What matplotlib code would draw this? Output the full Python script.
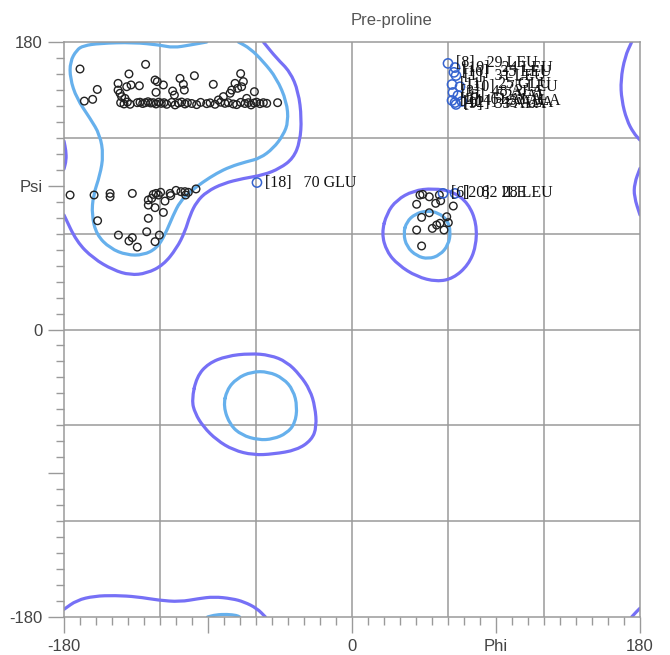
import numpy as np
import matplotlib.pyplot as plt
from matplotlib.path import Path
from matplotlib.patches import PathPatch
from matplotlib.ticker import MultipleLocator, FixedLocator, FixedFormatter

# favoured (inner, light blue) region outlines, (phi, psi) in degrees
fav_beta = [(-90.8, 180), (-101.3, 178.1), (-111.7, 176.4), (-120, 178.1), (-136.7, 179.8),
            (-157.5, 179.2), (-167.9, 177.7), (-172.1, 175), (-176.2, 167.7), (-176.2, 157.2),
            (-172.1, 144.7), (-163.7, 132.2), (-157.5, 121.8), (-155.4, 109.2), (-157.5, 96.7),
            (-161.7, 84.2), (-162.7, 71.7), (-159.6, 59.2), (-151.2, 50.8), (-140.8, 46.6),
            (-130.4, 46.6), (-122.1, 50.8), (-116.9, 59.2), (-111.7, 71.7), (-107.5, 80.0),
            (-101.2, 86.3), (-92.9, 92.5), (-84.6, 97.8), (-76.2, 101.9), (-65.8, 105.1),
            (-57.5, 107.2), (-49.2, 113.4), (-42.9, 121.8), (-39.8, 130.1), (-40.8, 142.6),
            (-47.1, 157.3), (-55.4, 167.7), (-63.7, 176.0), (-71.0, 180)]
fav_beta_wrap = [(-90.3, -180), (-85, -178.6), (-78, -178.3), (-72, -179), (-70.2, -180)]
fav_alpha_l = [(32.1, 60.2), (34.2, 67.5), (39.4, 72.3), (46.7, 74.4), (54.0, 73.1),
               (59.6, 68.5), (61.7, 61.2), (60.2, 52.9), (55.0, 46.6), (47.7, 44.1),
               (40.4, 46.0), (34.2, 51.8)]
fav_alpha = [(-80.4, -48.3), (-78.3, -37.9), (-72.1, -30.6), (-62.7, -26.4), (-52.3, -26.4),
             (-42.9, -30.6), (-36.7, -37.9), (-34.2, -48.3), (-35.6, -58.8), (-40.8, -65.0),
             (-49.2, -68.6), (-58.5, -69.2), (-69.0, -66.1), (-76.2, -59.8)]

# allowed (outer, purple) region outlines
allow_beta = [(-55.4, 180), (-47.1, 169.8), (-38.7, 161.4), (-33.5, 148.9), (-31.5, 132.2),
              (-32.5, 117.6), (-36.7, 107.2), (-45, 100.9), (-55.4, 96.7), (-67.9, 94.6),
              (-80.4, 91.5), (-90.8, 86.3), (-97.1, 80.0), (-101.2, 71.7), (-104.4, 61.2),
              (-109.6, 50.8), (-117.9, 40.4), (-128.3, 35.1), (-138.7, 34.1), (-149.2, 37.2),
              (-161.7, 44.5), (-172.1, 55.0), (-180, 71.7)]
allow_left_edge = [(-180, 118), (-178.8, 112), (-178.6, 106), (-180, 100.5)]
allow_right_top = [(174.8, 180), (170.6, 170.8), (167.9, 156.2), (168.5, 143.7),
                   (171.7, 131.1), (176, 123), (180, 118.6)]
allow_right_mid = [(180, 100.9), (176.5, 91.5), (176.3, 83.1), (180, 71.7)]
allow_bottom = [(-180, -175.2), (-172, -169.5), (-161.1, -166.9), (-148, -166.5),
                (-134.4, -167.3), (-121, -169.5), (-107.5, -170.5), (-96, -168.5),
                (-86.3, -167.3), (-75, -168.5), (-67.5, -170.5), (-59.4, -174.6), (-54.1, -180)]
allow_bottom_right = [(174.8, -180), (177.5, -177), (180, -174.5)]
allow_alpha_l = [(18.5, 60.2), (21.7, 72.7), (27.9, 81.1), (38.3, 86.9), (50.8, 88.4),
                 (63.3, 86.3), (72.7, 79.0), (77.9, 66.4), (77.5, 51.8), (72.7, 40.4),
                 (63.3, 32.0), (52.9, 29.9), (40.4, 33.1), (28.9, 40.4), (21.7, 48.7)]
allow_alpha = [(-100.2, -44.2), (-97.1, -29.6), (-89.8, -21.2), (-78.3, -16.6), (-63.7, -15.0),
               (-51.2, -16.0), (-40.8, -20.2), (-32.5, -28.5), (-26.2, -37.9), (-23.1, -48.3),
               (-22.1, -60.9), (-25.2, -69.2), (-34.6, -75.5), (-49.2, -78.0), (-61.7, -78.6),
               (-74.2, -75.5), (-84.6, -69.2), (-92.9, -60.9), (-98.1, -52.5)]

# (outline, closed?)
favoured = [(fav_beta, False), (fav_beta_wrap, False), (fav_alpha_l, True), (fav_alpha, True)]
allowed = [(allow_beta, False), (allow_left_edge, False), (allow_right_top, False),
           (allow_right_mid, False), (allow_bottom, False), (allow_bottom_right, False),
           (allow_alpha_l, True), (allow_alpha, True)]

# residues in normal regions
black_phi = [-170.0, -129.0, -139.4, -98.5, -69.6, -159.2, -167.3, -162.1, -146.2, -146.2,
             -140.8, -138.1, -132.9, -123.1, -121.7, -117.9, -107.5, -105.4, -104.8, -112.1,
             -111.0, -86.7, -73.1, -67.9, -69.0, -71.5, -75.2, -76.2, -61.0, -80.4,
             -145.0, -144.0, -141.9, -122.5, -83.5, -65.8,
             -144.6, -142.5, -140.4, -138.7, -134.2, -132.5, -130.8, -129.2, -127.5, -125.8,
             -124.2, -122.5, -120.8, -119.2, -117.5, -115.8, -112.7, -110.6, -108.5, -106.5,
             -104.4, -102.9, -100.2, -97.1, -94.6, -90.8, -88.7, -85.6, -82.1, -79.4,
             -77.3, -74.2, -72.1, -69.6, -66.9, -64.8, -63.1, -61.2, -59.6, -57.5,
             -55.4, -53.3, -46.5,
             -176.2, -161.2, -151.2, -151.2, -137.3, -159.0, -146.0, -139.4, -137.3, -134.2,
             -128.3, -123.1, -120.4, -127.3, -117.9, -123.1, -127.3, -127.3, -124.2, -122.5,
             -119.6, -116.9, -113.7, -113.3, -110.0, -106.9, -104.0, -104.4, -102.3, -97.5,
             -121.0, -125.2,
             42.5, 44.2, 48.3, 40.4, 54.6, 55.4, 52.3, 63.3, 43.5, 48.3,
             59.2, 60.2, 55.0, 52.9, 50.2, 40.4, 57.5, 43.5]
black_psi = [163.1, 166.0, 160.0, 158.9, 160.2, 150.3, 143.0, 144.1, 154.1, 149.9,
             152.0, 153.1, 152.6, 156.2, 155.2, 153.1, 157.2, 153.5, 149.9, 149.3,
             146.8, 153.5, 154.1, 155.2, 152.0, 151.0, 149.9, 147.9, 148.9, 145.8,
             147.9, 145.8, 144.7, 148.5, 143.7, 144.7,
             142.0, 141.2, 142.4, 141.0, 142.0, 142.3, 141.5, 142.0, 142.6, 141.8,
             142.0, 141.2, 142.3, 141.6, 142.0, 141.0, 142.2, 140.6, 141.8, 142.4,
             141.2, 142.0, 141.5, 140.8, 142.2, 141.4, 141.9, 141.0, 142.3, 141.6,
             142.0, 141.2, 140.8, 142.2, 141.5, 142.0, 140.6, 141.8, 142.3, 141.4,
             142.0, 141.6, 142.0,
             84.2, 84.2, 85.2, 83.1, 85.2, 68.1, 59.1, 55.4, 57.5, 51.6,
             61.2, 55.0, 59.1, 69.6, 73.3, 76.3, 77.9, 81.1, 84.6, 85.2,
             85.9, 80.4, 85.2, 83.8, 87.1, 86.3, 84.2, 86.3, 85.9, 88.0,
             84.2, 82.1,
             84.2, 84.6, 83.1, 78.4, 84.2, 80.6, 79.0, 77.3, 70.2, 73.1,
             70.6, 66.9, 66.5, 65.4, 63.3, 62.3, 62.3, 52.3]

# flagged residues (outliers) with their labels
blue_phi = [-59.4, 56.9, 64.4, 60.0, 64.4, 63.7, 65.0, 62.5, 67.5, 63.1, 66.2, 62.5, 64.4, 68.7, 65.0]
blue_psi = [92.0, 85.2, 85.2, 166.6, 164.0, 161.0, 159.0, 153.4, 152.0, 148.4, 146.5, 143.4,
            142.1, 142.8, 140.9]
blue_labels = ['[18]   70 GLU', '[6]   82 ILE', '[20]   28 LEU', '[8]   29 LEU', '[19]   24 LEU',
               '[16]   35 LEU', '[1]   31 LEU', '[11]   25 GLU', '[10]   75 LEU', '[3]   48 ALA',
               '[5]   52 VAL', '[2]   61 ALA', '[12]   43 ALA', '[14]   57 ALA', '[9]   33 ALA']

grid_vals = [-120, -60, 0, 60, 120]
x_ticks = [-180, -90, 0, 90, 180]
x_ticklabels = ['-180', '', '0', 'Phi', '180']
y_ticklabels = ['-180', '', '0', 'Psi', '180']

GRAY = '#9a9a9a'
TXT = '#444444'


def smooth_path(pts, closed):
    # quadratic bezier through midpoints, using traced points as control points
    p = np.array(pts, dtype=float)
    if closed:
        p = np.vstack([p, p[:2]])
        mids = (p[:-1] + p[1:]) / 2
        verts = [mids[0]]
        codes = [Path.MOVETO]
        for i in range(1, len(p) - 1):
            verts += [p[i], mids[i]]
            codes += [Path.CURVE3, Path.CURVE3]
    else:
        mids = (p[:-1] + p[1:]) / 2
        verts = [p[0], mids[0]]
        codes = [Path.MOVETO, Path.LINETO]
        for i in range(1, len(p) - 1):
            verts += [p[i], mids[i]]
            codes += [Path.CURVE3, Path.CURVE3]
        verts.append(p[-1])
        codes.append(Path.LINETO)
    return Path(verts, codes)


fig = plt.figure(figsize=(6.7, 6.55), dpi=100)
ax = fig.add_axes([64 / 670, 1 - 617 / 655, 576 / 670, 575 / 655])
ax.set_xlim(-180, 180)
ax.set_ylim(-180, 180)

for v in grid_vals:
    ax.axvline(v, color=GRAY, lw=1.1, zorder=1)
    ax.axhline(v, color=GRAY, lw=1.1, zorder=1)
for s in ax.spines.values():
    s.set_color(GRAY)
    s.set_linewidth(1.1)

for seg, closed in allowed:
    ax.add_patch(PathPatch(smooth_path(seg, closed), fill=False, edgecolor='#7670f6', lw=2.3,
                           capstyle='round', joinstyle='round', zorder=2))
for seg, closed in favoured:
    ax.add_patch(PathPatch(smooth_path(seg, closed), fill=False, edgecolor='#66b0ec', lw=2.3,
                           capstyle='round', joinstyle='round', zorder=2))

ax.scatter(black_phi, black_psi, s=30, facecolors='none', edgecolors='#222222',
           linewidths=1.0, zorder=3)
ax.scatter(blue_phi, blue_psi, s=44, facecolors='none', edgecolors='#3563cf',
           linewidths=1.1, zorder=4)
for x, y, t in zip(blue_phi, blue_psi, blue_labels):
    ax.annotate(t, (x, y), xytext=(5.5, 0), textcoords='offset points', va='center',
                ha='left', fontsize=11.5, family='Liberation Serif', color='#111111', zorder=5)

ax.xaxis.set_major_locator(FixedLocator(x_ticks))
ax.xaxis.set_major_formatter(FixedFormatter(x_ticklabels))
ax.yaxis.set_major_locator(FixedLocator(x_ticks))
ax.yaxis.set_major_formatter(FixedFormatter(y_ticklabels))
ax.xaxis.set_minor_locator(MultipleLocator(10))
ax.yaxis.set_minor_locator(MultipleLocator(10))
ax.tick_params(which='major', length=11.5, width=1.0, color=GRAY, labelcolor=TXT,
               labelsize=12, pad=4)
ax.tick_params(which='minor', length=6, width=1.0, color=GRAY)
for lab in ax.get_xticklabels() + ax.get_yticklabels():
    lab.set_family('Liberation Sans')

fig.text(391 / 670, 1 - 20 / 655, 'Pre-proline', ha='center', va='center', fontsize=12,
         color='#555555', family='Liberation Sans')

fig.savefig('out.png', dpi=100)
